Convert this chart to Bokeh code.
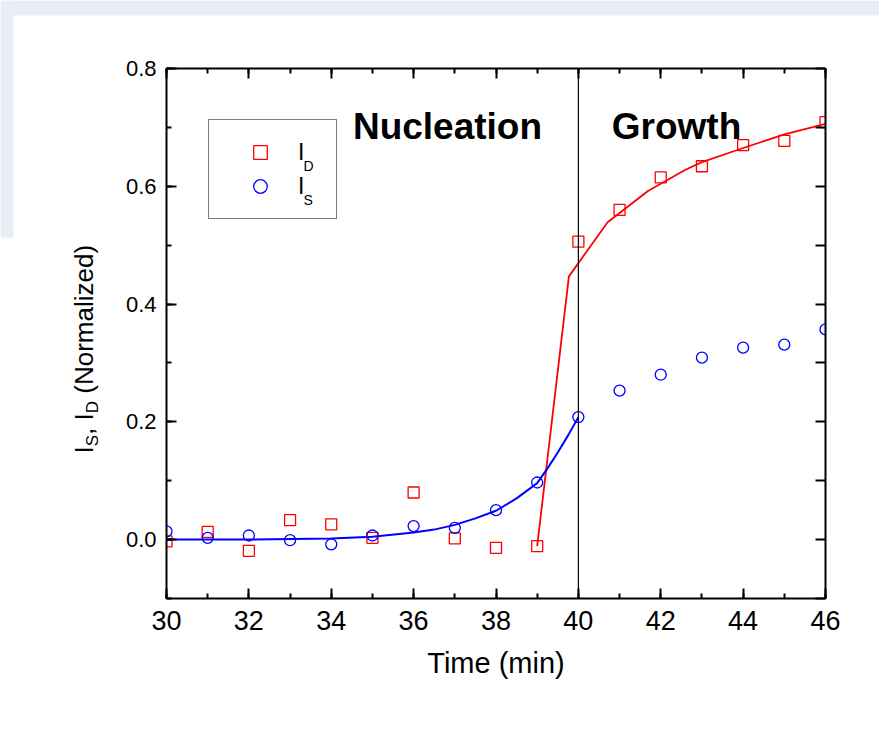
import math
from bokeh.plotting import figure
from bokeh.models import (Label, Legend, LegendItem, LinearAxis, Range1d, BoxAnnotation,
                          SingleIntervalTicker, CustomJSTickFormatter, PrintfTickFormatter)
from bokeh.embed import file_html
from bokeh.resources import INLINE

# ---- data ----
time_min = [30, 31, 32, 33, 34, 35, 36, 37, 38, 39, 40, 41, 42, 43, 44, 45, 46]
i_d = [-0.003, 0.013, -0.019, 0.033, 0.026, 0.003, 0.080, 0.002, -0.014, -0.011,
       0.506, 0.560, 0.615, 0.634, 0.670, 0.677, 0.709]
i_s = [0.014, 0.003, 0.007, -0.001, -0.008, 0.007, 0.023, 0.020, 0.050, 0.097,
       0.208, 0.253, 0.280, 0.309, 0.326, 0.331, 0.357]

fit_s_time = [30, 32, 34, 35, 36, 36.5, 37, 37.5, 38, 38.5, 39, 39.25, 39.5, 39.75, 40]
fit_s = [0.0, 0.0, 0.002, 0.005, 0.012, 0.017, 0.025, 0.036, 0.049, 0.070, 0.096,
         0.121, 0.148, 0.177, 0.208]

fit_d_time = [39, 39.77, 40.71, 41.69, 42.6, 43, 44, 45, 46]
fit_d = [-0.011, 0.447, 0.539, 0.592, 0.628, 0.641, 0.665, 0.688, 0.706]

x_ticks_step = 2
y_ticks_step = 0.2
boundary_time = 40
X0, X1, Y0, Y1 = 30, 46, -0.1, 0.8

RED = "#FF0000"
BLUE = "#0000FF"
PAGE_BLUE = "#E8EEF7"
FONT = "Liberation Sans"

# ---- layout (pixels on the canvas) ----
W, H = 879, 714
FL, FR, FT, FB = 166, 825, 68, 598          # where the axes box sits
KX = (FR - FL) / (X1 - X0)                  # px per minute
KY = (FB - FT) / (Y1 - Y0)                  # px per unit
XA, XB = X0 - FL / KX, X1 + (W - FR) / KX
YT, YB = Y1 + FT / KY, Y0 - (H - FB) / KY
MID = 0.3465  # em distance from text middle to baseline

def X(px):
    return XA + px / KX

def Y(py):
    return YT - py / KY

p = figure(width=W, height=H, x_range=Range1d(XA, XB), y_range=Range1d(YB, YT),
           output_backend="svg", toolbar_location=None, min_border=0)
p.outline_line_color = None
p.xgrid.visible = False
p.ygrid.visible = False
p.background_fill_color = "white"
p.border_fill_color = "white"

def style_axis(ax, label_size):
    ax.axis_line_width = 2
    ax.axis_line_color = "black"
    ax.major_tick_in = 10
    ax.major_tick_out = 0
    ax.minor_tick_in = 5
    ax.minor_tick_out = 0
    ax.major_tick_line_width = 2
    ax.minor_tick_line_width = 2
    ax.major_label_text_font = FONT
    ax.major_label_text_font_size = label_size
    ax.major_label_text_color = "black"

xax, yax = p.xaxis[0], p.yaxis[0]
xax.ticker = SingleIntervalTicker(interval=x_ticks_step, num_minor_ticks=2)
yax.ticker = SingleIntervalTicker(interval=y_ticks_step, num_minor_ticks=2)
yax.formatter = PrintfTickFormatter(format="%.1f")
style_axis(xax, "27px")
style_axis(yax, "22px")
xax.fixed_location = Y0
xax.bounds = (X0, X1)
yax.fixed_location = X0
yax.bounds = (Y0, Y1)
xax.major_label_standoff = 12
yax.major_label_standoff = 10
xax.axis_label = "Time (min)"
xax.axis_label_text_font = FONT
xax.axis_label_text_font_size = "29px"
xax.axis_label_text_font_style = "normal"
xax.axis_label_text_color = "black"
xax.axis_label_standoff = 14

blank = CustomJSTickFormatter(code="return ''")
top = LinearAxis(ticker=SingleIntervalTicker(interval=x_ticks_step, num_minor_ticks=2),
                 formatter=blank, fixed_location=Y1, bounds=(X0, X1))
style_axis(top, "10px")
top.major_label_standoff = 0
p.add_layout(top, "above")
right = LinearAxis(ticker=SingleIntervalTicker(interval=0.1, num_minor_ticks=0),
                   formatter=blank, fixed_location=X1, bounds=(Y0, Y1))
style_axis(right, "10px")
right.major_label_standoff = 0
p.add_layout(right, "right")

# fits
p.line(fit_d_time, fit_d, line_color=RED, line_width=1.8)
p.line(fit_s_time, fit_s, line_color=BLUE, line_width=2)

# data
sq = p.scatter(time_min, i_d, marker="square", size=11, fill_color=None, line_color=RED, line_width=1.3)
ci = p.scatter(time_min, i_s, marker="circle", size=11, fill_color=None, line_color=BLUE, line_width=1.3)

# keep marks inside the axes box (white masks outside it, under the axes)
p.add_layout(BoxAnnotation(right=X0, fill_color="white", fill_alpha=1, line_alpha=0, level="glyph"))
p.add_layout(BoxAnnotation(left=X1, fill_color="white", fill_alpha=1, line_alpha=0, level="glyph"))

# page background strip seen in the reference
p.add_layout(BoxAnnotation(bottom=Y(15), fill_color=PAGE_BLUE, fill_alpha=1, line_alpha=0, level="glyph"))
p.add_layout(BoxAnnotation(right=X(13), bottom=Y(237), fill_color=PAGE_BLUE, fill_alpha=1,
                           line_alpha=0, level="glyph"))

# boundary between nucleation and growth
p.segment(x0=[boundary_time], y0=[Y0], x1=[boundary_time], y1=[Y1], line_color="black", line_width=1.2)

legend = Legend(items=[LegendItem(label="I", renderers=[sq]), LegendItem(label="I", renderers=[ci])],
                location=(208, H - 219), margin=0, padding=15, spacing=0,
                glyph_width=72, glyph_height=34, label_standoff=2, label_width=23,
                label_text_font=FONT, label_text_font_size="23px", label_text_color="black",
                border_line_color="black", border_line_width=1, background_fill_alpha=0.0)
p.add_layout(legend, "center")

def add_text(bx, by, txt, fs, bold=False, align="left", angle=0.0):
    # (bx, by): baseline point on the canvas, in px from the top-left
    off = MID * fs
    ax = bx - off * math.sin(angle)
    ay = by - off * math.cos(angle)
    p.add_layout(Label(x=X(ax), y=Y(ay), text=txt, angle=angle,
                       text_font=FONT, text_font_size=f"{fs}px",
                       text_font_style="bold" if bold else "normal", text_color="black",
                       text_align=align, text_baseline="middle"))

# legend subscripts
add_text(303, 170, "D", 14)
add_text(303, 204, "S", 14)

# region titles
add_text(447, 139, "Nucleation", 37, bold=True, align="center")
add_text(676, 139, "Growth", 37, bold=True, align="center")

# y axis label with subscripts, built from pieces (rotated); None = advance only
ARIAL = {"I": 278, "S": 667, ",": 278, " ": 278, "D": 722, "(": 333, ")": 333, "N": 722,
         "o": 556, "r": 333, "m": 833, "a": 556, "l": 222, "i": 222, "z": 500, "e": 556, "d": 556}
main_fs, sub_fs = 26, 17
pieces = [("I", main_fs, 0), ("S", sub_fs, 5), (", I", main_fs, 0), ("D", sub_fs, 5),
          (" ", main_fs, None), ("(Normalized)", main_fs, 0)]
pos = 453.0
for txt, fs, shift in pieces:
    if shift is not None:
        add_text(93 + shift, pos, txt, fs, angle=math.pi / 2)
    pos -= sum(ARIAL.get(c, 556) for c in txt) / 1000 * fs

open("out.html", "w").write(file_html(p, INLINE))
